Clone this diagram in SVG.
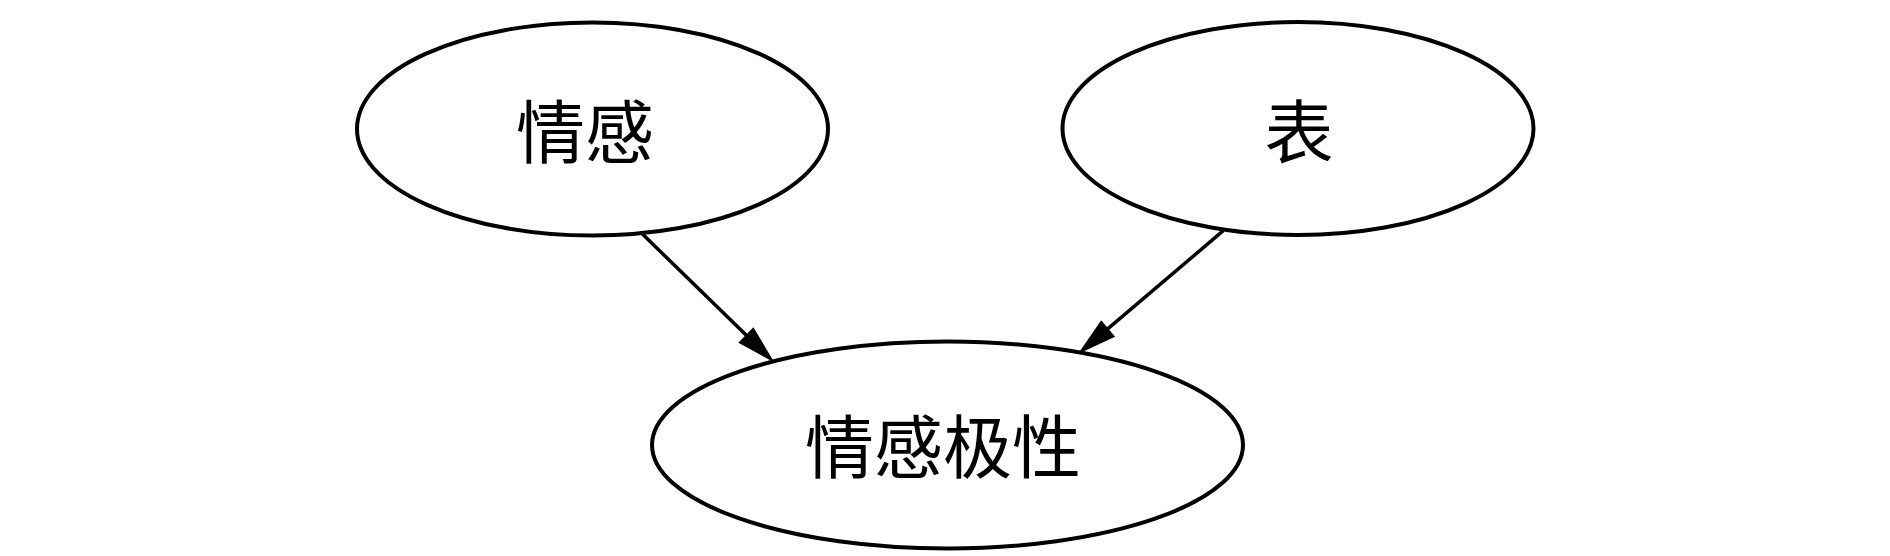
<svg xmlns="http://www.w3.org/2000/svg" width="1890" height="556" viewBox="0 0 1890 556">
<style>
.node ellipse{fill:#fff;stroke:#000;stroke-width:4}
.node text{font-family:"Noto Sans CJK SC","Noto Sans CJK JP",sans-serif;font-size:69px;fill:#000;text-anchor:middle}
.edge line{stroke:#000;stroke-width:3.5}
.edge polygon{fill:#000;stroke:#000;stroke-width:2}
</style>
<rect width="1890" height="556" fill="#fff"/>
<g id="edges">
<g class="edge" id="e1">
<line x1="641.7" y1="233.3" x2="746.6" y2="335.6"/>
<polygon points="771.7,360 740,342.4 753.2,328.8"/>
</g>
<g class="edge" id="e2">
<line x1="1223.3" y1="230.7" x2="1107.4" y2="329.1"/>
<polygon points="1080.7,351.7 1113.5,336.4 1101.3,321.9"/>
</g>
</g>
<g class="node" id="n1">
<ellipse cx="592.5" cy="129" rx="235.5" ry="106.5"/>
<text x="585" y="158">情感</text>
</g>
<g class="node" id="n2">
<ellipse cx="1298" cy="128.5" rx="235.5" ry="106.5"/>
<text x="1299" y="158">表</text>
</g>
<g class="node" id="n3">
<ellipse cx="947.5" cy="445" rx="295.5" ry="103.5"/>
<text x="943" y="473">情感极性</text>
</g>
</svg>
